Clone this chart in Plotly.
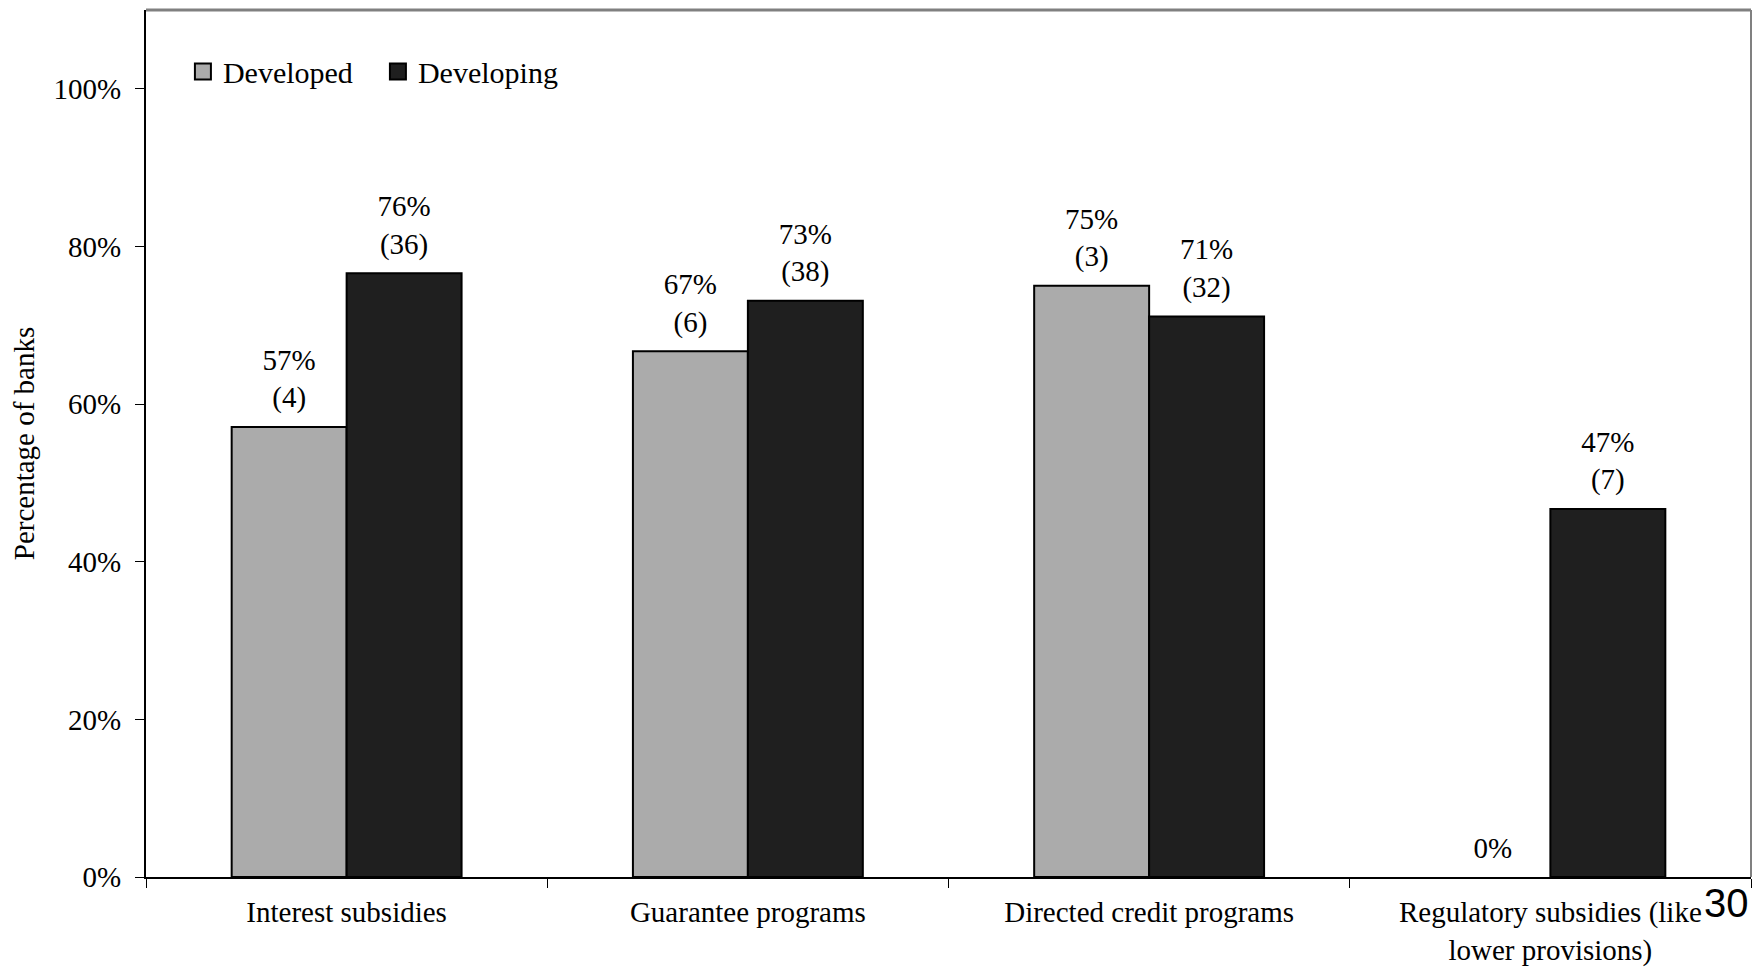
import plotly.graph_objects as go

categories = ["Interest subsidies", "Guarantee programs", "Directed credit programs",
              "Regulatory subsidies (like<br>lower provisions)"]
developed = [57.1, 66.7, 75.0, 0.0]
developing = [76.6, 73.1, 71.1, 46.7]
developed_labels = ["57%<br>(4)", "67%<br>(6)", "75%<br>(3)", "0%"]
developing_labels = ["76%<br>(36)", "73%<br>(38)", "71%<br>(32)", "47%<br>(7)"]
y_ticks = [0, 20, 40, 60, 80, 100]
y_tick_text = ["0%", "20%", "40%", "60%", "80%", "100%"]

SERIF = "Liberation Serif"
GRAY = "#ABABAB"
DARK = "#1F1F1F"
FS = 29

fig = go.Figure()
series = [("Developed", developed, developed_labels, GRAY, "a"),
          ("Developing", developing, developing_labels, DARK, "b")]
for nm, vals, labels, col, grp in series:
    fig.add_trace(go.Bar(
        x=categories, y=vals, name=nm, offsetgroup=grp, alignmentgroup="g",
        marker=dict(color=col, line=dict(color="black",
                                         width=[2 if v > 0 else 0 for v in vals])),
        showlegend=False, hoverinfo="skip"))
    fig.add_trace(go.Scatter(
        x=categories, y=vals, mode="markers+text", text=labels,
        textposition="top center", offsetgroup=grp, alignmentgroup="g",
        marker=dict(size=18, opacity=0), cliponaxis=False,
        textfont=dict(family=SERIF, size=FS, color="black"), showlegend=False))

# legend entries
for nm, _, _, col, _ in series:
    fig.add_trace(go.Scatter(x=[None], y=[None], mode="markers", name=nm,
                             marker=dict(symbol="square", size=18, color=col,
                                         line=dict(color="black", width=2))))

fig.update_layout(
    width=1752, height=970,
    margin=dict(l=146, r=1, t=10, b=93),
    paper_bgcolor="white", plot_bgcolor="white",
    barmode="group", bargap=0.427, bargroupgap=0, scattermode="group",
    font=dict(family=SERIF, size=FS, color="black"),
    legend=dict(orientation="h", x=0.023, y=0.929, xanchor="left", yanchor="middle",
                font=dict(family=SERIF, size=30, color="black"),
                bgcolor="rgba(0,0,0,0)", itemwidth=30, tracegroupgap=0,
                entrywidth=150, entrywidthmode="pixels"),
    xaxis=dict(showline=True, linecolor="black", linewidth=2, ticks="outside",
               tickson="boundaries", ticklen=9, tickcolor="black", tickwidth=1,
               showgrid=False, ticklabelstandoff=8, automargin=False,
               tickfont=dict(family=SERIF, size=29)),
    yaxis=dict(range=[0, 110], tickvals=y_ticks, ticktext=y_tick_text,
               showline=True, linecolor="black", linewidth=2, ticks="outside",
               ticklen=9, tickcolor="black", tickwidth=1, showgrid=False,
               zeroline=False, ticklabelstandoff=8, automargin=False,
               title=dict(text="Percentage of banks", font=dict(family=SERIF, size=FS),
                          standoff=10),
               tickfont=dict(family=SERIF, size=FS)),
    shapes=[
        dict(type="line", xref="paper", yref="paper", x0=0, x1=1, y0=1, y1=1,
             line=dict(color="#808080", width=3)),
        dict(type="line", xref="paper", yref="paper", x0=1, x1=1, y0=0, y1=1,
             line=dict(color="#808080", width=2)),
    ],
    annotations=[dict(text="30", xref="paper", yref="paper", x=1, y=-0.03,
                      xanchor="right", yanchor="middle", showarrow=False,
                      font=dict(family="Liberation Sans", size=40, color="black"))],
)

fig.write_html("out.html")
